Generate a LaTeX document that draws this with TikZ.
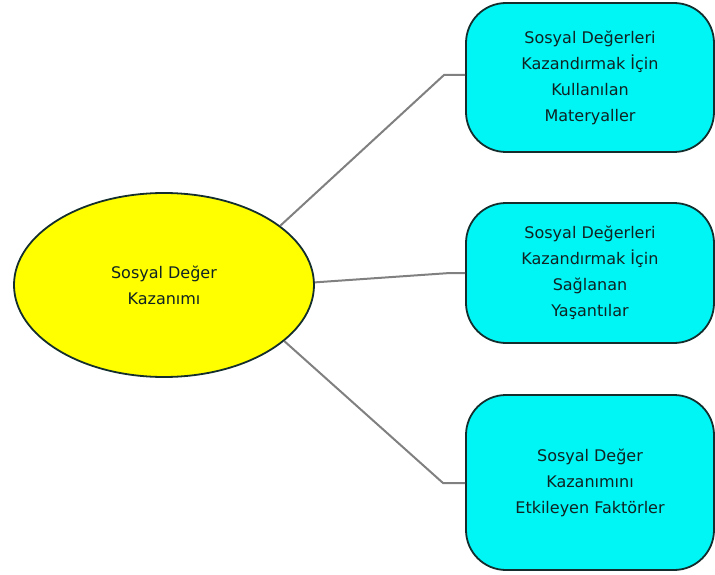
\documentclass[tikz,border=0pt]{standalone}
\usepackage{fontspec}
\setmainfont{DejaVu Sans}
\usetikzlibrary{shapes.geometric}
\definecolor{boxfill}{RGB}{0,245,245}
\definecolor{ellfill}{RGB}{255,255,0}
\definecolor{edge}{RGB}{20,45,45}
\definecolor{conn}{RGB}{128,128,128}
\definecolor{txt}{RGB}{15,35,35}
\begin{document}
\begin{tikzpicture}[x=1pt,y=-1pt,
  topic/.style={draw=edge, line width=1.8pt, fill=boxfill, rounded corners=40pt,
    minimum width=248pt, inner sep=0pt, align=center, text=txt,
    font=\fontsize{16}{26}\selectfont},
  root/.style={ellipse, draw=edge, line width=1.8pt, fill=ellfill,
    minimum width=300pt, minimum height=184pt, inner sep=0pt, align=center,
    text=txt, font=\fontsize{16}{26}\selectfont},
  link/.style={draw=conn, line width=2pt}]
\useasboundingbox (0,0) rectangle (715,575);
\node[root] (e) at (164,285) {Sosyal Değer\\Kazanımı};
\node[topic, minimum height=149pt] (b1) at (590,77.5) {Sosyal Değerleri\\Kazandırmak İçin\\Kullanılan\\Materyaller};
\node[topic, minimum height=140pt] (b2) at (590,273) {Sosyal Değerleri\\Kazandırmak İçin\\Sağlanan\\Yaşantılar};
\node[topic, minimum height=175pt] (b3) at (590,482.5) {Sosyal Değer\\Kazanımını\\Etkileyen Faktörler};
\coordinate (k1) at (444,75);
\coordinate (k2) at (450,273);
\coordinate (k3) at (443,483);
\draw[link] (e.27) -- (k1) -- (b1.west |- k1);
\draw[link] (e.1) -- (k2) -- (b2.west |- k2);
\draw[link] (e.-25) -- (k3) -- (b3.west |- k3);
\end{tikzpicture}
\end{document}
